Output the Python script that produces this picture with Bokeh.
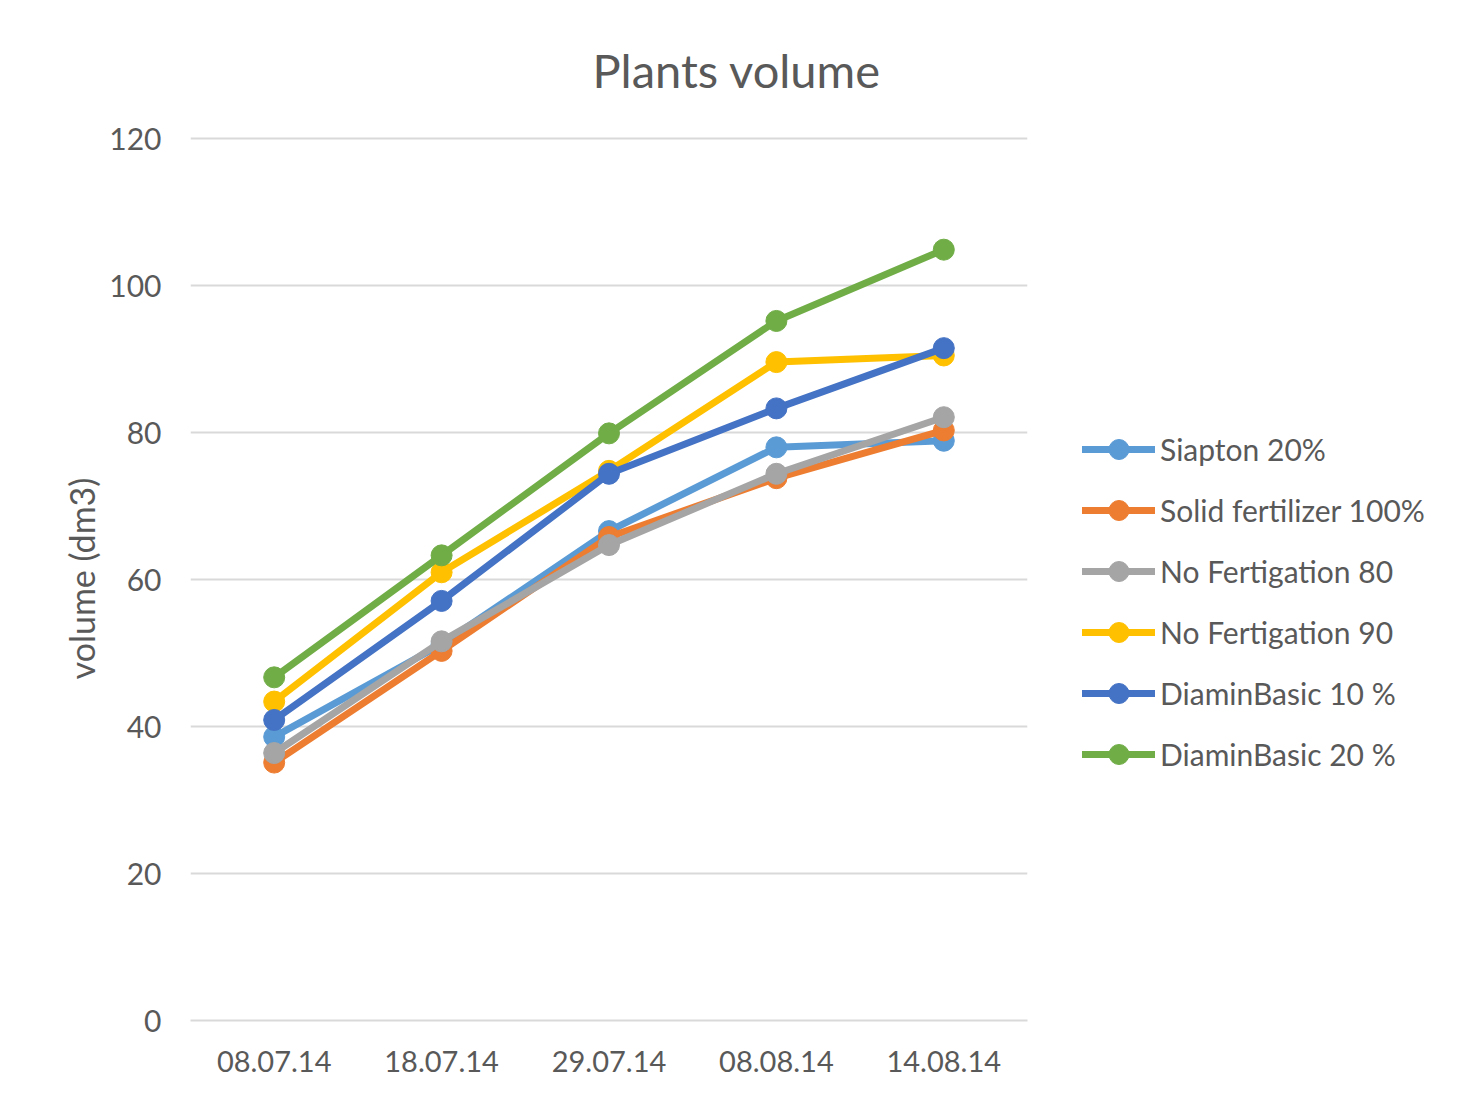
from bokeh.plotting import figure
from bokeh.models import (FactorRange, Range1d, Legend, LegendItem, Title,
                          SingleIntervalTicker)
from bokeh.embed import file_html
from bokeh.resources import INLINE

dates = ["08.07.14", "18.07.14", "29.07.14", "08.08.14", "14.08.14"]
series_names = ["Siapton 20%", "Solid fertilizer 100%", "No Fertigation 80",
                "No Fertigation 90", "DiaminBasic 10 %", "DiaminBasic 20 %"]
siapton_20 = [38.6, 51.2, 66.6, 78.0, 78.9]
solid_fert_100 = [35.1, 50.3, 65.8, 73.8, 80.3]
no_fert_80 = [36.4, 51.6, 64.7, 74.4, 82.1]
no_fert_90 = [43.4, 61.0, 74.8, 89.6, 90.5]
diamin_10 = [40.9, 57.1, 74.4, 83.3, 91.5]
diamin_20 = [46.7, 63.3, 79.9, 95.2, 104.9]
series_values = [siapton_20, solid_fert_100, no_fert_80, no_fert_90, diamin_10, diamin_20]
colors = ["#5B9BD5", "#ED7D31", "#A5A5A5", "#FFC000", "#4472C4", "#70AD47"]

FONT = "Lato"
TXT = "#595959"
GRID = "#D9D9D9"

p = figure(frame_width=837, frame_height=884,
           x_range=FactorRange(factors=dates, range_padding=0),
           y_range=Range1d(0, 120.3),
           output_backend="svg", toolbar_location=None,
           min_border_left=190, min_border_right=100,
           min_border_top=136, min_border_bottom=81)
p.outline_line_color = None
p.background_fill_color = "white"
p.border_fill_color = "white"

# title
p.title = Title(text="Plants volume", text_font=FONT, text_font_size="47px",
                text_color=TXT, text_font_style="normal", align="left",
                offset=402, standoff=77)

# y axis
p.yaxis.ticker = SingleIntervalTicker(interval=20)
p.yaxis.axis_line_color = None
p.yaxis.major_tick_line_color = None
p.yaxis.minor_tick_line_color = None
p.yaxis.major_label_standoff = 23
p.yaxis.major_label_text_font = FONT
p.yaxis.major_label_text_font_size = "30px"
p.yaxis.major_label_text_color = TXT
p.yaxis.axis_label = "volume (dm3)"
p.yaxis.axis_label_text_font = FONT
p.yaxis.axis_label_text_font_size = "34px"
p.yaxis.axis_label_text_font_style = "normal"
p.yaxis.axis_label_text_color = TXT
p.yaxis.axis_label_standoff = 4

# x axis
p.xaxis.axis_line_color = GRID
p.xaxis.axis_line_width = 2
p.xaxis.major_tick_line_color = None
p.xaxis.minor_tick_line_color = None
p.xaxis.major_label_standoff = 24
p.xaxis.major_label_text_font = FONT
p.xaxis.major_label_text_font_size = "29px"
p.xaxis.major_label_text_color = TXT

p.xgrid.grid_line_color = None
p.ygrid.grid_line_color = GRID
p.ygrid.grid_line_width = 2

items = []
for name, vals, c in zip(series_names, series_values, colors):
    r1 = p.line(dates, vals, line_color=c, line_width=7, line_cap="round", line_join="round")
    r2 = p.scatter(dates, vals, size=21, fill_color=c, line_color=c, line_width=1)
    items.append(LegendItem(label=name, renderers=[r1, r2]))

legend = Legend(items=items, location=(55, 241), orientation="vertical",
                glyph_width=73, glyph_height=50, label_height=50, spacing=11,
                label_standoff=5, padding=0, margin=0,
                label_text_font=FONT, label_text_font_size="30px",
                label_text_color=TXT,
                background_fill_alpha=0, border_line_color=None)
p.add_layout(legend, "right")

open("out.html", "w").write(file_html(p, INLINE))
